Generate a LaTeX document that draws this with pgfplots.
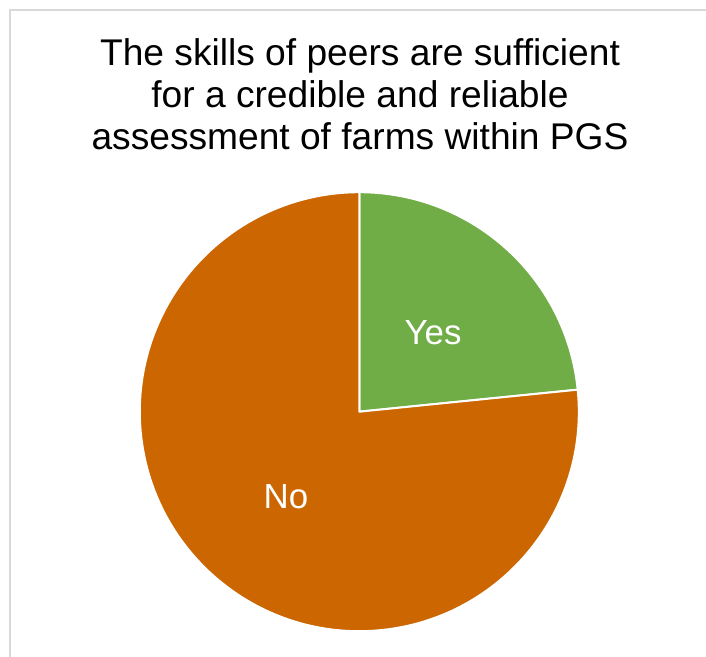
\documentclass[border=0pt]{standalone}
\usepackage{pgfplots}
\pgfplotsset{compat=1.18}
\usepackage{pgfplotstable}
\usepackage{fontspec}
\setmainfont{Liberation Sans}
\definecolor{yesgreen}{RGB}{112,173,71}
\definecolor{noorange}{RGB}{204,102,0}
\definecolor{framegray}{RGB}{217,217,217}
\pgfplotstableread{
label value
Yes 23.4
No 76.6
}\piedata
\begin{document}
\begin{tikzpicture}
\pgfplotstablegetelem{0}{value}\of\piedata \let\vyes\pgfplotsretval
\pgfplotstablegetelem{1}{value}\of\piedata \let\vno\pgfplotsretval
\pgfmathsetmacro{\angsplit}{90-360*\vyes/(\vyes+\vno)}
\begin{axis}[
  at={(0,0)}, anchor=south west,
  width=706bp, height=657bp, scale only axis,
  xmin=0, xmax=706, ymin=0, ymax=657,
  hide axis, clip=false,
]
% frame
\draw[framegray, line width=2bp] (axis cs:10,0) -- (axis cs:10,647) -- (axis cs:706,647);
% slices
\fill[yesgreen, draw=white, line width=2bp, line join=round]
  (axis cs:359.3,245.3) -- ++(90:219.5bp) arc[start angle=90, end angle=\angsplit, radius=219.5bp] -- cycle;
\fill[noorange, draw=white, line width=2bp, line join=round]
  (axis cs:359.3,245.3) -- ++(\angsplit:219.5bp) arc[start angle=\angsplit, end angle=-270, radius=219.5bp] -- cycle;
% labels
\node[anchor=base, text=white, font=\fontsize{35}{42}\selectfont, inner sep=0pt] at (axis cs:433,312) {Yes};
\node[anchor=base, text=white, font=\fontsize{35}{42}\selectfont, inner sep=0pt] at (axis cs:286,148) {No};
% title
\node[anchor=base, font=\fontsize{37.3}{43}\selectfont, inner sep=0pt] at (axis cs:360,591) {The skills of peers are sufficient};
\node[anchor=base, font=\fontsize{37.3}{43}\selectfont, inner sep=0pt] at (axis cs:360,549) {for a credible and reliable};
\node[anchor=base, font=\fontsize{37.3}{43}\selectfont, inner sep=0pt] at (axis cs:360,507) {assessment of farms within PGS};
\end{axis}
\pgfresetboundingbox
\useasboundingbox (0,0) rectangle (706bp,657bp);
\end{tikzpicture}
\end{document}
